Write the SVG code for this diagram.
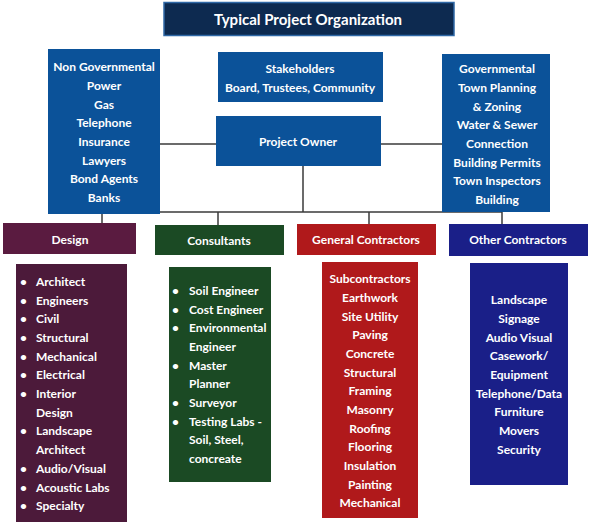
<svg xmlns="http://www.w3.org/2000/svg" width="591" height="523" viewBox="0 0 591 523">
<style>
text{font-family:Lato,"Open Sans","Liberation Sans",sans-serif;font-weight:bold;font-size:12px;fill:#fff}
.c{text-anchor:middle}
.blue{fill:#0b5299}
.line{stroke:#3a3a3a;stroke-width:1.5;fill:none}
</style>
<rect width="591" height="523" fill="#fff"/>
<g id="connectors">
<line class="line" x1="160" y1="144" x2="216" y2="144"/>
<line class="line" x1="381" y1="144" x2="442" y2="144"/>
<line class="line" x1="303" y1="166" x2="303" y2="212"/>
<line class="line" x1="102" y1="212" x2="502" y2="212"/>
<line class="line" x1="102" y1="212" x2="102" y2="223"/>
<line class="line" x1="218" y1="212" x2="218" y2="225"/>
<line class="line" x1="369" y1="212" x2="369" y2="224"/>
<line class="line" x1="502" y1="212" x2="502" y2="224"/>
</g>
<g id="title">
<rect x="164" y="2.5" width="290" height="33" fill="#0d2a50" stroke="#2f68a6" stroke-width="1.5"/>
<text class="c" x="308" y="25" style="font-size:15px">Typical Project Organization</text>
</g>
<g id="nongov">
<rect class="blue" x="48" y="49" width="112" height="165"/>
<text class="c" x="104" y="71">Non Governmental</text>
<text class="c" x="104" y="90">Power</text>
<text class="c" x="104" y="109">Gas</text>
<text class="c" x="104" y="127">Telephone</text>
<text class="c" x="104" y="146">Insurance</text>
<text class="c" x="104" y="165">Lawyers</text>
<text class="c" x="104" y="183">Bond Agents</text>
<text class="c" x="104" y="202">Banks</text>
</g>
<g id="stakeholders">
<rect class="blue" x="218" y="52" width="165" height="50"/>
<text class="c" x="300" y="73">Stakeholders</text>
<text class="c" x="300" y="92">Board, Trustees, Community</text>
</g>
<g id="owner">
<rect class="blue" x="216" y="116" width="165" height="50"/>
<text class="c" x="298" y="146">Project Owner</text>
</g>
<g id="gov">
<rect class="blue" x="442" y="54" width="108" height="158"/>
<text class="c" x="497" y="73">Governmental</text>
<text class="c" x="497" y="92">Town Planning</text>
<text class="c" x="497" y="111">&amp; Zoning</text>
<text class="c" x="497" y="129">Water &amp; Sewer</text>
<text class="c" x="497" y="148">Connection</text>
<text class="c" x="497" y="167">Building Permits</text>
<text class="c" x="497" y="185">Town Inspectors</text>
<text class="c" x="497" y="204">Building</text>
</g>
<g id="design">
<rect x="3" y="223" width="133" height="31" fill="#5a1b40"/>
<text class="c" x="70" y="244">Design</text>
</g>
<g id="consultants">
<rect x="155" y="225" width="129" height="30" fill="#1b4a24"/>
<text class="c" x="219" y="245">Consultants</text>
</g>
<g id="general">
<rect x="297" y="224" width="139" height="31" fill="#b0191b"/>
<text class="c" x="366" y="244">General Contractors</text>
</g>
<g id="other">
<rect x="449" y="224" width="139" height="32" fill="#1a1f88"/>
<text class="c" x="518" y="244">Other Contractors</text>
</g>
<g id="design-list">
<rect x="16" y="264" width="111" height="258" fill="#4c1a3a"/>
<text x="20" y="286">•</text><text x="36" y="286">Architect</text>
<text x="20" y="305">•</text><text x="36" y="305">Engineers</text>
<text x="20" y="323">•</text><text x="36" y="323">Civil</text>
<text x="20" y="342">•</text><text x="36" y="342">Structural</text>
<text x="20" y="361">•</text><text x="36" y="361">Mechanical</text>
<text x="20" y="379">•</text><text x="36" y="379">Electrical</text>
<text x="20" y="398">•</text><text x="36" y="398">Interior</text>
<text x="36" y="417">Design</text>
<text x="20" y="435">•</text><text x="36" y="435">Landscape</text>
<text x="36" y="454">Architect</text>
<text x="20" y="473">•</text><text x="36" y="473">Audio/Visual</text>
<text x="20" y="492">•</text><text x="36" y="492">Acoustic Labs</text>
<text x="20" y="510">•</text><text x="36" y="510">Specialty</text>
</g>
<g id="consultants-list">
<rect x="169" y="267" width="102" height="215" fill="#1b4a24"/>
<text x="172" y="295">•</text><text x="189" y="295">Soil Engineer</text>
<text x="172" y="314">•</text><text x="189" y="314">Cost Engineer</text>
<text x="172" y="332">•</text><text x="189" y="332">Environmental</text>
<text x="189" y="351">Engineer</text>
<text x="172" y="370">•</text><text x="189" y="370">Master</text>
<text x="189" y="388">Planner</text>
<text x="172" y="407">•</text><text x="189" y="407">Surveyor</text>
<text x="172" y="426">•</text><text x="189" y="426">Testing Labs -</text>
<text x="189" y="444">Soil, Steel,</text>
<text x="189" y="463">concreate</text>
</g>
<g id="general-list">
<rect x="322" y="262" width="96" height="256" fill="#b0191b"/>
<text class="c" x="370" y="283">Subcontractors</text>
<text class="c" x="370" y="302">Earthwork</text>
<text class="c" x="370" y="321">Site Utility</text>
<text class="c" x="370" y="339">Paving</text>
<text class="c" x="370" y="358">Concrete</text>
<text class="c" x="370" y="377">Structural</text>
<text class="c" x="370" y="395">Framing</text>
<text class="c" x="370" y="414">Masonry</text>
<text class="c" x="370" y="433">Roofing</text>
<text class="c" x="370" y="451">Flooring</text>
<text class="c" x="370" y="470">Insulation</text>
<text class="c" x="370" y="489">Painting</text>
<text class="c" x="370" y="507">Mechanical</text>
</g>
<g id="other-list">
<rect x="470" y="263" width="98" height="222" fill="#1a1f88"/>
<text class="c" x="519" y="304">Landscape</text>
<text class="c" x="519" y="323">Signage</text>
<text class="c" x="519" y="342">Audio Visual</text>
<text class="c" x="519" y="360">Casework/</text>
<text class="c" x="519" y="379">Equipment</text>
<text class="c" x="519" y="398">Telephone/Data</text>
<text class="c" x="519" y="416">Furniture</text>
<text class="c" x="519" y="435">Movers</text>
<text class="c" x="519" y="454">Security</text>
</g>
</svg>
